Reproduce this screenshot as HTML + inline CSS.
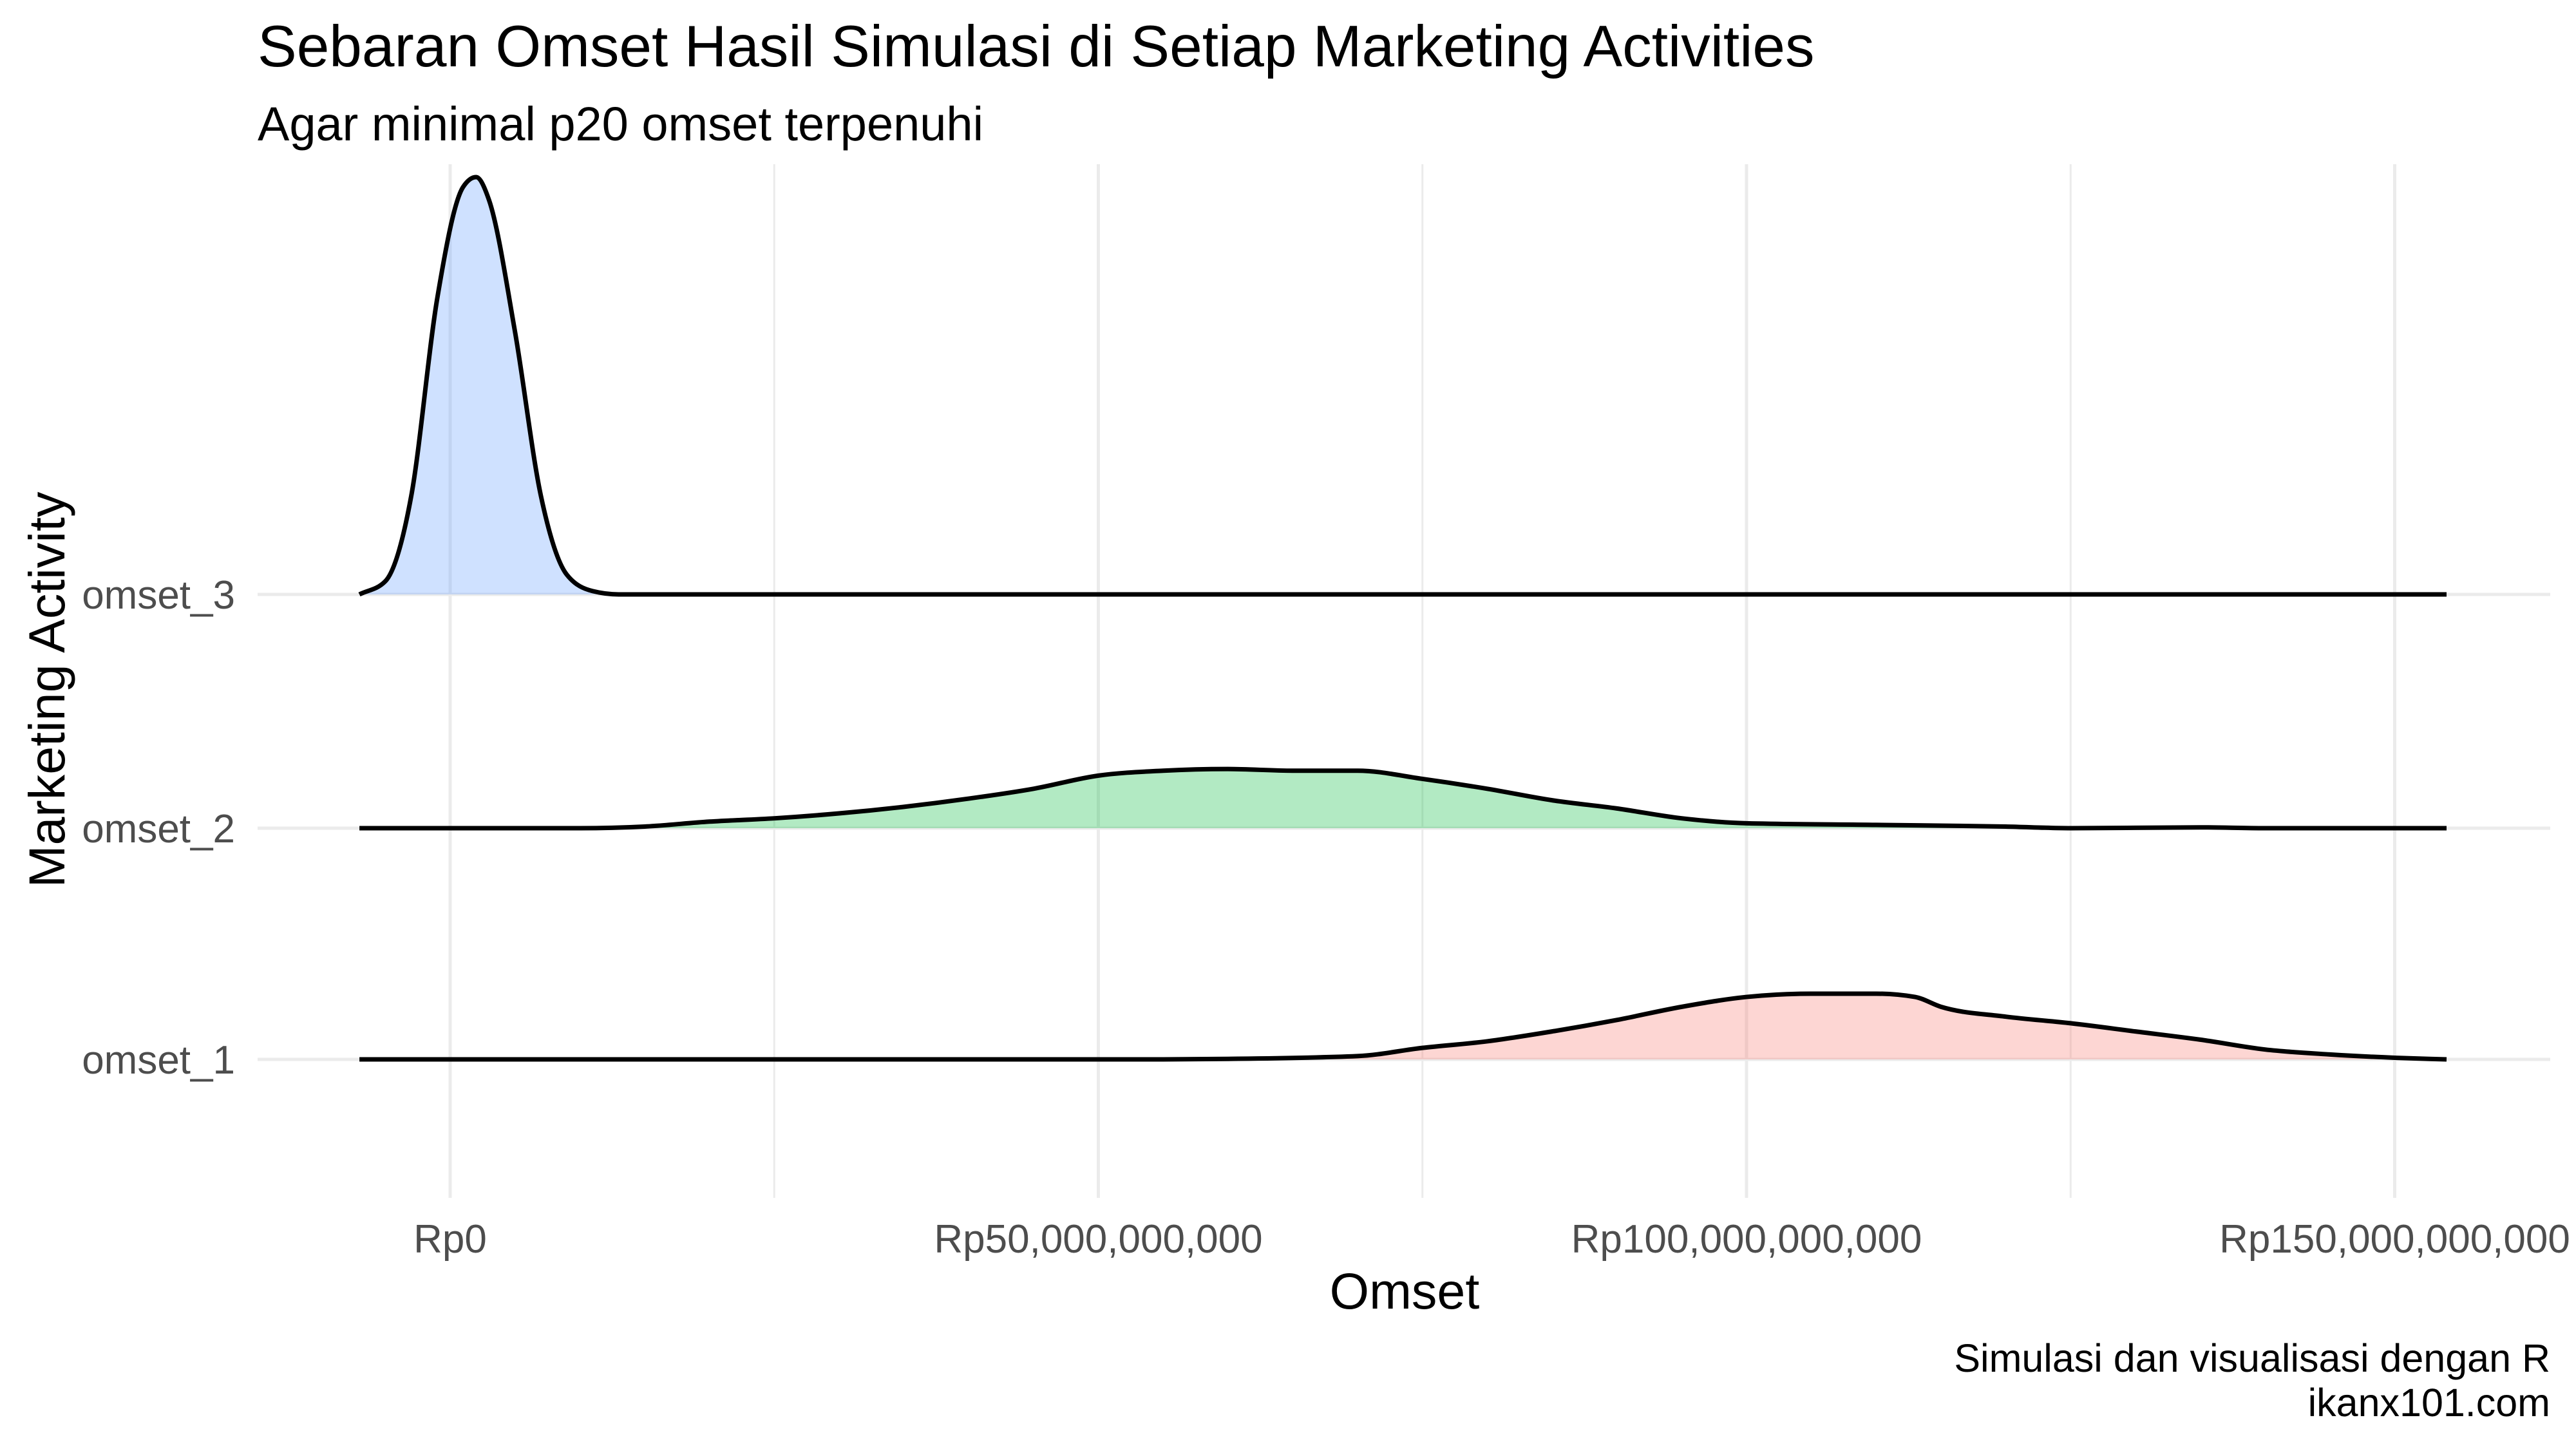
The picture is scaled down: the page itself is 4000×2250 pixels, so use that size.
<!DOCTYPE html>
<html><head><meta charset="utf-8"><style>
html,body{margin:0;padding:0;background:#fff;}
svg{display:block;font-family:"Liberation Sans",sans-serif;}
</style></head><body>
<svg id="chart" width="4000" height="2250" viewBox="0 0 4000 2250" xmlns="http://www.w3.org/2000/svg">
<rect width="4000" height="2250" fill="#fff"/>
<g id="grid"></g>
<g id="ridges"></g>
<g id="labels"></g>
<text x="400" y="103" font-size="91" fill="#000">Sebaran Omset Hasil Simulasi di Setiap Marketing Activities</text>
<text x="400" y="218" font-size="74" fill="#000">Agar minimal p20 omset terpenuhi</text>
<text x="2181" y="2032" font-size="79" text-anchor="middle" fill="#000">Omset</text>
<text transform="translate(100,1071) rotate(-90)" font-size="79" text-anchor="middle" fill="#000">Marketing Activity</text>
<text x="3960" y="2130" font-size="61" text-anchor="end" fill="#000">Simulasi dan visualisasi dengan R</text>
<text x="3960" y="2199" font-size="61" text-anchor="end" fill="#000">ikanx101.com</text>
</svg>
<script>
const categories = ["omset_1","omset_2","omset_3"];
const xTicks = [0,50,100,150];
const xTickLabels = ["Rp0","Rp50,000,000,000","Rp100,000,000,000","Rp150,000,000,000"];
const xMinor = [25,75,125];
const fills = ["rgba(248,118,109,0.3)","rgba(0,186,56,0.3)","rgba(97,156,255,0.3)"];
const xs1 = [-7,40,55,60,70,75,80,85,90,95,100,105,110,113,115,120,125,130,135,140,145,150,154];
const d1 =  [0,0,0,0.3,2,7,11,17,24,32,38,40,40,38,32,26,22,17,12,6,3,1,0];
const xs2 = [-7,10,15,20,25,30,35,40,45,50,55,60,65,70,75,80,85,90,95,100,110,120,125,135,140,154];
const d2 =  [0,0,1,4,6,9,13,18,24,32,35,36,35,35,30,24,17,12,6,3,2,1,0,0.5,0,0];
const xs3 = [-7,-5,-3,-1,1,2,3,5,7,9,11,13,20,154];
const d3 =  [0,8,60,180,248,254,240,160,60,12,2,0,0,0];
const seriesX = [xs1,xs2,xs3];
const seriesD = [d1,d2,d3];

const NS="http://www.w3.org/2000/svg";
const xScale = v => 699 + v*20.13;
const baselines = [1645,1286,923];
const yScale = (i,d) => baselines[i] - d*2.551;
function mk(tag,attrs,parent){const e=document.createElementNS(NS,tag);for(const k in attrs)e.setAttribute(k,attrs[k]);parent.appendChild(e);return e;}
const grid=document.getElementById('grid'), ridges=document.getElementById('ridges'), labels=document.getElementById('labels');
xMinor.forEach(v=>{const l=mk('line',{x1:xScale(v),x2:xScale(v),y1:255,y2:1860,stroke:'#ebebeb','stroke-width':3},grid);

});
xTicks.forEach((v,i)=>{const l=mk('line',{x1:xScale(v),x2:xScale(v),y1:255,y2:1860,stroke:'#ebebeb','stroke-width':5},grid);


const t=mk('text',{x:xScale(v),y:1945,'font-size':62,'text-anchor':'middle',fill:'#4d4d4d'},labels);t.textContent=xTickLabels[i];

});
categories.forEach((c,i)=>{const l=mk('line',{x1:400,x2:3960,y1:baselines[i],y2:baselines[i],stroke:'#ebebeb','stroke-width':5},grid);


const t=mk('text',{x:365,y:baselines[i]+22,'font-size':62,'text-anchor':'end',fill:'#4d4d4d'},labels);t.textContent=c;

});
function monoPath(pts){
  const n=pts.length, h=[], s=[], m=[];
  for(let i=0;i<n-1;i++){h[i]=pts[i+1][0]-pts[i][0];s[i]=(pts[i+1][1]-pts[i][1])/h[i];}
  m[0]=s[0];m[n-1]=s[n-2];
  for(let i=1;i<n-1;i++){
    if(s[i-1]*s[i]<=0)m[i]=0;
    else{const p=(s[i-1]*h[i]+s[i]*h[i-1])/(h[i-1]+h[i]);
      m[i]=(Math.sign(s[i-1])+Math.sign(s[i]))*Math.min(Math.abs(s[i-1]),Math.abs(s[i]),0.5*Math.abs(p))||0;}
  }
  let d=`M${pts[0][0]},${pts[0][1]}`;
  for(let i=0;i<n-1;i++){const dx=h[i]/3;
    d+=` C${pts[i][0]+dx},${pts[i][1]+m[i]*dx} ${pts[i+1][0]-dx},${pts[i+1][1]-m[i+1]*dx} ${pts[i+1][0]},${pts[i+1][1]}`;}
  return d;}
[2,1,0].forEach(i=>{const pts=seriesX[i].map((x,j)=>[xScale(x),yScale(i,seriesD[i][j])]);const line=monoPath(pts);
const a=mk('path',{d:line+` L${pts[pts.length-1][0]},${baselines[i]} L${pts[0][0]},${baselines[i]} Z`,fill:fills[i],stroke:'none'},ridges);


const p=mk('path',{d:line,fill:'none',stroke:'#000','stroke-width':7,'stroke-linejoin':'round'},ridges);

});
</script>
</body></html>
